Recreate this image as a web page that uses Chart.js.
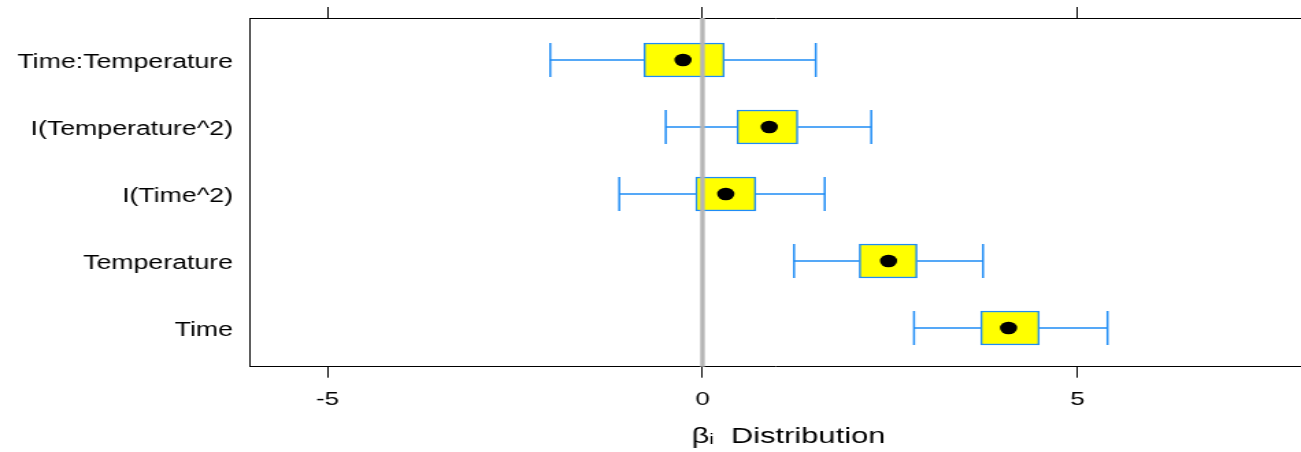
<!DOCTYPE html>
<html>
<head>
<meta charset="utf-8">
<script src="https://cdn.jsdelivr.net/npm/chart.js@4"></script>
<style>
  html, body { margin: 0; padding: 0; background: #fff; overflow: hidden; }
  /* the reference is a wide, horizontally stretched lattice plot */
  #wrap { width: 950px; height: 452px; transform: scaleX(1.3695); transform-origin: 0 0; }
</style>
</head>
<body>
<div id="wrap"><canvas id="coefChart" width="950" height="452"></canvas></div>
<script>
// model terms, bottom row first (lattice order)
const terms = ['Time', 'Temperature', 'I(Time^2)', 'I(Temperature^2)', 'Time:Temperature'];
const whiskerLow  = [2.82, 1.22, -1.11, -0.49, -2.03];
const boxLow      = [3.71, 2.09, -0.09, 0.46, -0.78];
const medians     = [4.08, 2.48, 0.31, 0.89, -0.26];
const boxHigh     = [4.49, 2.86, 0.71, 1.27, 0.29];
const whiskerHigh = [5.40, 3.74, 1.63, 2.25, 1.51];
const xTicks = [-5, 0, 5];
const refLine = 0;

const boxBlue = '#1E8CF5';
const boxYellow = '#FFFF00';
const FONT = 'Liberation Sans, Arial, sans-serif';

// whiskers + reference line, drawn through the chart scales
const boxPlotExtras = {
    id: 'boxPlotExtras',
    beforeDatasetsDraw(chart) {
        const { ctx, scales: { x, y } } = chart;
        const half = 17;
        ctx.save();
        ctx.strokeStyle = boxBlue;
        ctx.lineWidth = 1.5;
        terms.forEach((t, i) => {
            const yc = y.getPixelForValue(i);
            const xl = x.getPixelForValue(whiskerLow[i]);
            const x1 = x.getPixelForValue(boxLow[i]);
            const x3 = x.getPixelForValue(boxHigh[i]);
            const xh = x.getPixelForValue(whiskerHigh[i]);
            ctx.beginPath();
            ctx.moveTo(xl, yc); ctx.lineTo(x1, yc);
            ctx.moveTo(x3, yc); ctx.lineTo(xh, yc);
            ctx.moveTo(xl, yc - half); ctx.lineTo(xl, yc + half);
            ctx.moveTo(xh, yc - half); ctx.lineTo(xh, yc + half);
            ctx.stroke();
        });
        ctx.restore();
    },
    afterDatasetDraw(chart, args) {
        // grey zero line goes over the boxes
        if (args.index !== 0) return;
        const { ctx, chartArea, scales: { x } } = chart;
        const px = x.getPixelForValue(refLine);
        ctx.save();
        ctx.strokeStyle = '#b5b5b5';
        ctx.lineWidth = 3.3;
        ctx.beginPath();
        ctx.moveTo(px, chartArea.top);
        ctx.lineTo(px, chartArea.bottom);
        ctx.stroke();
        ctx.restore();
    }
};

const fixedTicks = (scale) => { scale.ticks = xTicks.map(v => ({ value: v })); };
const fitHeight = (h) => (s) => { s.height = h; s.paddingLeft = 0; s.paddingRight = 0; };

new Chart(document.getElementById('coefChart'), {
    type: 'bar',
    data: {
        datasets: [{
            type: 'bar',
            indexAxis: 'y',
            order: 2,
            data: terms.map((t, i) => ({ x: [boxLow[i], boxHigh[i]], y: i })),
            backgroundColor: boxYellow,
            borderColor: boxBlue,
            borderWidth: 1.5,
            borderSkipped: false,
            barThickness: 34
        }, {
            type: 'scatter',
            order: 1,
            data: terms.map((t, i) => ({ x: medians[i], y: i })),
            pointRadius: 6.3,
            pointBackgroundColor: '#000',
            pointBorderWidth: 0
        }]
    },
    options: {
        responsive: false,
        animation: false,
        layout: { padding: 0, autoPadding: false },
        plugins: {
            legend: { display: false },
            tooltip: { enabled: false }
        },
        scales: {
            x: {
                type: 'linear',
                position: 'bottom',
                offset: false,
                bounds: 'data',
                min: -6.033,
                max: 7.98,
                afterBuildTicks: fixedTicks,
                afterFit: fitHeight(85.3),
                grid: { offset: false, drawOnChartArea: false, tickLength: 11, tickColor: '#000', lineWidth: 1 },
                border: { color: '#000', width: 1 },
                ticks: { color: '#000', padding: 11, font: { family: FONT, size: 19 } },
                title: {
                    display: true,
                    text: '   βᵢ  Distribution',
                    color: '#000',
                    font: { family: FONT, size: 22.5 },
                    padding: { top: 0, bottom: 1.4 }
                }
            },
            xTop: {
                type: 'linear',
                position: 'top',
                offset: false,
                bounds: 'data',
                min: -6.033,
                max: 7.98,
                afterBuildTicks: fixedTicks,
                afterFit: fitHeight(18),
                grid: { offset: false, drawOnChartArea: false, tickLength: 11, tickColor: '#000', lineWidth: 1 },
                border: { color: '#000', width: 1 },
                ticks: { callback: () => '', padding: 0 }
            },
            y: {
                type: 'linear',
                offset: false,
                bounds: 'data',
                beginAtZero: false,
                min: -0.578,
                max: 4.627,
                afterBuildTicks: (s) => { s.ticks = terms.map((t, i) => ({ value: i })); },
                afterFit: (s) => { s.width = 182.55; s.paddingTop = 0; s.paddingBottom = 0; },
                grid: { offset: false, display: false, drawTicks: false },
                border: { display: true, color: '#000', width: 1 },
                ticks: {
                    color: '#000',
                    padding: 12.4,
                    labelOffset: 3,
                    font: { family: FONT, size: 19.5 },
                    callback: (v) => terms[v]
                }
            }
        }
    },
    plugins: [boxPlotExtras]
});
</script>
</body>
</html>
